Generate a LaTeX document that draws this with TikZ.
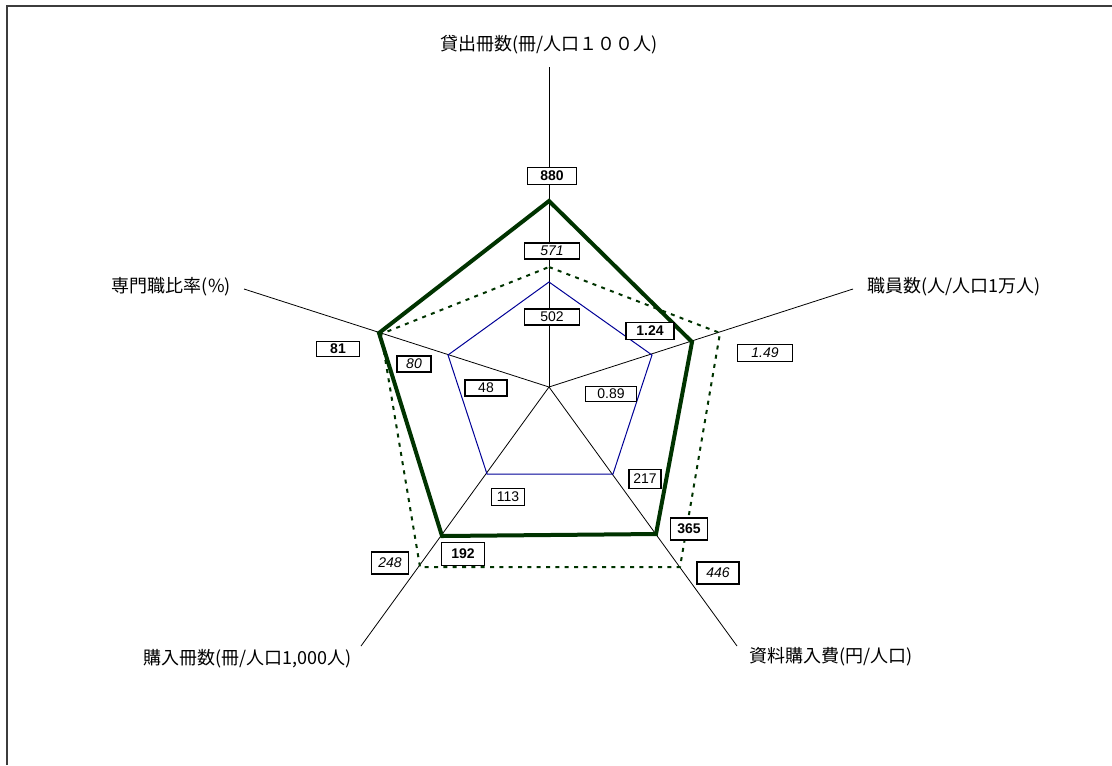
\documentclass[tikz,border=0pt]{standalone}
\usepackage{fontspec}
\setmainfont{Liberation Sans}
\newfontfamily\jp{Noto Sans CJK JP}
\definecolor{dkgreen}{RGB}{0,51,0}
\definecolor{navyline}{RGB}{0,0,150}
\definecolor{framegray}{RGB}{60,60,60}
\begin{document}
\begin{tikzpicture}[x=0.75pt,y=-0.75pt,
  axis/.style={draw=black,line width=0.6pt},
  valbox/.style={draw=black,fill=white,line width=0.9pt,inner sep=0pt,
    font=\fontsize{10.5}{12}\selectfont},
  boldbox/.style={valbox,line width=1.3pt,font=\fontsize{10.5}{12}\selectfont\bfseries},
  itbox/.style={valbox,font=\fontsize{10.5}{12}\selectfont\itshape},
  axlabel/.style={inner sep=0pt,font=\jp\fontsize{13.5}{16}\selectfont},
  mainline/.style={draw=dkgreen,line width=3pt,line join=miter},
  dashline/.style={draw=dkgreen,line width=1.5pt,dash pattern=on 3pt off 4pt},
  blueline/.style={draw=navyline,line width=0.75pt}]
\useasboundingbox (0,0) rectangle (1112,765);
% frame
\draw[line width=1.5pt,framegray] (7,765) -- (7,6) -- (1112,6);
% axes
\coordinate (C) at (549,387);
\coordinate (aT) at (549,67);
\coordinate (aR) at (853,289);
\coordinate (aBR) at (737,646);
\coordinate (aBL) at (361,646);
\coordinate (aL) at (244,289);
\foreach \e in {aT,aR,aBR,aBL,aL} \draw[axis] (C) -- (\e);
% axis labels
\node[axlabel] (lT) at (549,45) {貸出冊数(冊/人口１００人)};
\node[axlabel,anchor=west] (lR) at (867,287) {職員数(人/人口1万人)};
\node[axlabel,anchor=west] (lBR) at (749,657) {資料購入費(円/人口)};
\node[axlabel,anchor=east] (lBL) at (352,659) {購入冊数(冊/人口1,000人)};
\node[axlabel,anchor=east] (lL) at (231,287) {専門職比率(\%)};
% blue polygon
\coordinate (b1) at (549,282);
\coordinate (b2) at (652,355);
\coordinate (b3) at (613,474);
\coordinate (b4) at (487,474);
\coordinate (b5) at (448,355);
\draw[blueline] (b1) -- (b2) -- (b3) -- (b4) -- (b5) -- cycle;
% dashed polygon
\coordinate (d1) at (549,267);
\coordinate (d2) at (720,333);
\coordinate (d3) at (680,567);
\coordinate (d4) at (420,567);
\coordinate (d5) at (381,334);
\draw[dashline] (d1) -- (d2) -- (d3) -- (d4) -- (d5) -- cycle;
% main polygon
\coordinate (m1) at (549,201);
\coordinate (m2) at (692,342);
\coordinate (m3) at (656,534);
\coordinate (m4) at (442,536);
\coordinate (m5) at (379,333);
\draw[mainline] (m1) -- (m2) -- (m3) -- (m4) -- (m5) -- cycle;
% value boxes: main
\node[boldbox,minimum width=36.75pt,minimum height=12.75pt] (v880) at (552,176) {880};
\node[boldbox,minimum width=36pt,minimum height=12.75pt] (v124) at (650,331) {1.24};
\node[boldbox,minimum width=27.75pt,minimum height=16.5pt] (v365) at (689,529) {365};
\node[boldbox,minimum width=32.25pt,minimum height=17.25pt] (v192) at (463,554) {192};
\node[boldbox,minimum width=32.25pt,minimum height=11.25pt] (v81) at (338,349) {81};
% value boxes: dashed
\node[itbox,minimum width=41.25pt,minimum height=12pt] (v571) at (552,251) {571};
\node[itbox,minimum width=41.25pt,minimum height=12.75pt] (v149) at (765,353) {1.49};
\node[itbox,minimum width=31.5pt,minimum height=16.5pt] (v446) at (718,573) {446};
\node[itbox,minimum width=27.75pt,minimum height=16.5pt] (v248) at (390,563) {248};
\node[itbox,minimum width=25.5pt,minimum height=12pt] (v80) at (414,364) {80};
% value boxes: blue
\node[valbox,minimum width=41.25pt,minimum height=12pt] (v502) at (552,317) {502};
\node[valbox,minimum width=38.25pt,minimum height=11.25pt] (v089) at (611,394) {0.89};
\node[valbox,minimum width=24pt,minimum height=14.25pt] (v217) at (645,479) {217};
\node[valbox,minimum width=24.75pt,minimum height=12.75pt] (v113) at (508,497) {113};
\node[valbox,minimum width=31.5pt,minimum height=12pt] (v48) at (486,388) {48};
\end{tikzpicture}
\end{document}
